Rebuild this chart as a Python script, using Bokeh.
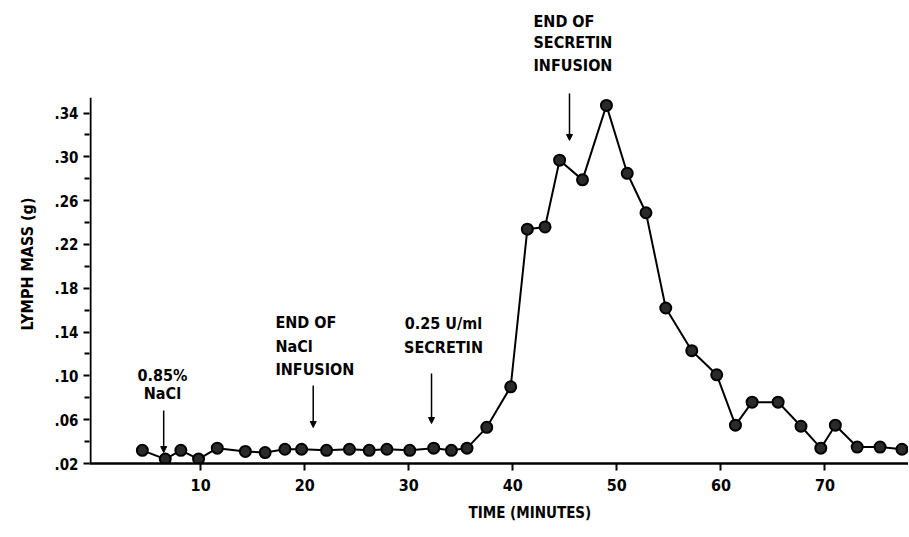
from bokeh.plotting import figure
from bokeh.models import (Range1d, FixedTicker, CustomJSTickFormatter, Label, Arrow, NormalHead, Title)
from bokeh.embed import file_html
from bokeh.resources import INLINE

# Data
time_min = [4.4, 6.6, 8.1, 9.8, 11.6, 14.3, 16.2, 18.1, 19.7, 22.1,
            24.3, 26.2, 27.9, 30.1, 32.4, 34.1, 35.6, 37.5, 39.8, 41.4,
            43.1, 44.5, 46.7, 49.0, 51.0, 52.8, 54.7, 57.2, 59.6, 61.4,
            63.0, 65.5, 67.7, 69.6, 71.0, 73.1, 75.3, 77.4]
lymph_mass = [0.032, 0.024, 0.032, 0.024, 0.034, 0.031, 0.030, 0.033, 0.033, 0.032,
              0.033, 0.032, 0.033, 0.032, 0.034, 0.032, 0.034, 0.053, 0.090, 0.234,
              0.236, 0.297, 0.279, 0.347, 0.285, 0.249, 0.162, 0.123, 0.101, 0.055,
              0.076, 0.076, 0.054, 0.034, 0.055, 0.035, 0.035, 0.033]
x_ticks = [10, 20, 30, 40, 50, 60, 70]
y_ticks = [0.02, 0.06, 0.10, 0.14, 0.18, 0.22, 0.26, 0.30, 0.34]
y_minor = [0.04, 0.08, 0.12, 0.16, 0.20, 0.24, 0.28, 0.32]

FONT = "'DejaVu Sans Condensed', 'Liberation Sans Narrow', 'Liberation Sans', sans-serif"
X0 = -0.68
Y0 = 0.02

p = figure(width=908, height=536, output_backend="svg", toolbar_location=None,
           x_range=Range1d(X0, 78.03), y_range=Range1d(Y0, 0.4428),
           min_border_left=88, min_border_right=0, min_border_top=0, min_border_bottom=73)
p.outline_line_color = None
p.xgrid.visible = False
p.ygrid.visible = False
p.background_fill_color = "white"
p.border_fill_color = "white"

# x axis
xa = p.xaxis[0]
xa.ticker = FixedTicker(ticks=x_ticks)
xa.axis_line_width = 2.5
xa.axis_line_color = "black"
xa.major_tick_out = 7
xa.major_tick_in = 0
xa.major_tick_line_width = 2
xa.minor_tick_out = 0
xa.minor_tick_in = 0
xa.major_label_standoff = 8
xa.major_label_text_font = FONT
xa.major_label_text_font_style = "bold"
xa.major_label_text_font_size = "16px"
xa.major_label_text_color = "black"

# y axis (line drawn separately so it stops at top of scale)
ya = p.yaxis[0]
ya.ticker = FixedTicker(ticks=y_ticks, minor_ticks=y_minor)
ya.formatter = CustomJSTickFormatter(code="return tick.toFixed(2).replace(/^0/, '');")
ya.axis_line_color = None
ya.major_tick_out = 6
ya.major_tick_in = 0
ya.major_tick_line_width = 2
ya.minor_tick_out = 5
ya.minor_tick_in = 0
ya.minor_tick_line_width = 2
ya.major_label_standoff = 5
ya.major_label_text_font = FONT
ya.major_label_text_font_style = "bold"
ya.major_label_text_font_size = "15px"
ya.major_label_text_color = "black"

p.segment(x0=[X0 + 0.1], y0=[Y0], x1=[X0 + 0.1], y1=[0.354], line_color="black", line_width=2)

# data
p.line(time_min, lymph_mass, line_color="black", line_width=2)
p.scatter(time_min, lymph_mass, size=11, fill_color="#2a2a2a", line_color="black", line_width=2)

def lab(x, y, text, align="left"):
    p.add_layout(Label(x=x, y=y, text=text, text_font=FONT, text_font_style="bold",
                       text_font_size="16px", text_color="black",
                       text_align=align, text_baseline="middle"))

def arrow(x, y0, y1):
    p.add_layout(Arrow(end=NormalHead(size=6, fill_color="black", line_color="black"),
                       x_start=x, y_start=y0, x_end=x, y_end=y1,
                       line_color="black", line_width=1.5))

lab(6.33, 0.1004, "0.85%", "center")
lab(6.33, 0.0839, "NaCl", "center")
arrow(6.45, 0.0684, 0.030)

lab(17.19, 0.1488, "END OF")
lab(17.19, 0.1268, "NaCl")
lab(17.19, 0.1058, "INFUSION")
arrow(20.82, 0.0912, 0.0529)

lab(33.34, 0.1479, "0.25 U/ml", "center")
lab(33.34, 0.1259, "SECRETIN", "center")
arrow(32.19, 0.1022, 0.0565)

lab(41.99, 0.4237, "END OF")
lab(41.99, 0.4045, "SECRETIN")
lab(41.99, 0.3835, "INFUSION")
arrow(45.45, 0.3579, 0.315)

# axis titles
t_x = Title(text="TIME (MINUTES)", align="left", offset=379, vertical_align="top",
            text_font=FONT, text_font_style="bold", text_font_size="15px", text_color="black")
t_y = Title(text="LYMPH MASS (g)", align="left", offset=133, text_font=FONT,
            text_font_style="bold", text_font_size="16px", text_color="black")
if "standoff" in Title.properties():
    t_x.standoff = 20
    t_y.standoff = 30
p.add_layout(t_x, "below")
p.add_layout(t_y, "left")

open("out.html", "w").write(file_html(p, INLINE))
